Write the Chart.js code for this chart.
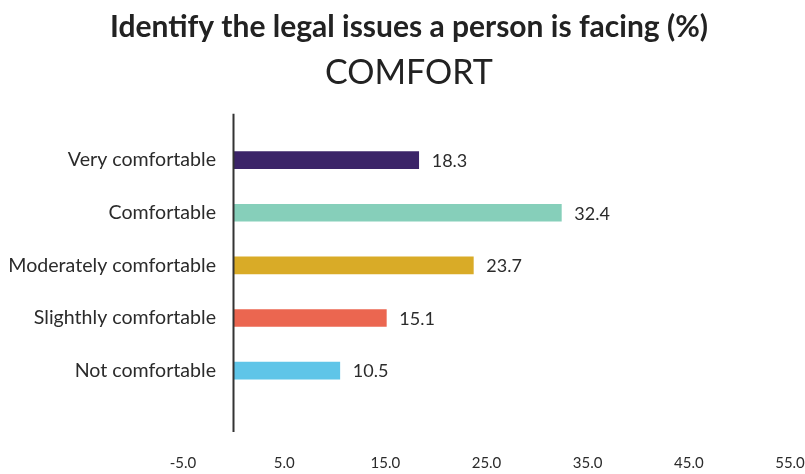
<!doctype html>
<html lang="en">
<head>
  <meta charset="utf-8">
  <title>Comfort</title>
  <script src="https://cdn.jsdelivr.net/npm/chart.js@4.4.1/dist/chart.umd.min.js"></script>
  <style>
    html, body { margin: 0; padding: 0; background: #fff; }
    #wrap { width: 805px; height: 474px; }
  </style>
</head>
<body>
<div id="wrap"><canvas id="comfort-chart"></canvas></div>

<script>
// answers to "how comfortable are you..." in percent
var categories = ["Very comfortable", "Comfortable", "Moderately comfortable",
                  "Slighthly comfortable", "Not comfortable"];
var values = [18.3, 32.4, 23.7, 15.1, 10.5];
var barColours = ["#3b2468", "#86cfba", "#d9ab27", "#eb6650", "#5fc5e8"];

// x axis runs -5 .. 55 in steps of 10
var xMin = -5;
var xMax = 55;
var xStep = 10;

var textColour = "#2b2b2b";
var fontFamily = "Lato, 'Open Sans', sans-serif";
var catFontSize = 19.6;

// category names are mirrored into the plot and right-aligned 17px left of zero,
// so work out the widest one to get the tick padding right
var yAxisWidth = 170;   // + 13 layout padding = left edge of plot
var labelEnd = 216;
var measure = document.createElement("canvas").getContext("2d");
measure.font = catFontSize + "px " + fontFamily;
var widest = 0;
categories.forEach(function(c) {
  widest = Math.max(widest, measure.measureText(c).width);
});
var yTickPadding = labelEnd - (13 + yAxisWidth) - widest;

// vertical axis line drawn through zero, a bit longer than the bars' area
var zeroLine = {
  id: "zeroLine",
  afterDatasetsDraw: function(chart) {
    var ctx = chart.ctx;
    var area = chart.chartArea;
    var px = Math.round(chart.scales.x.getPixelForValue(0)) - 0.5;
    ctx.save();
    ctx.strokeStyle = "#333";
    ctx.lineWidth = 2;
    ctx.beginPath();
    ctx.moveTo(px, area.top - 20);
    ctx.lineTo(px, area.bottom + 35);
    ctx.stroke();
    ctx.restore();
  }
};

// value printed just past the end of each bar
var valueLabels = {
  id: "valueLabels",
  afterDatasetsDraw: function(chart) {
    var ctx = chart.ctx;
    var meta = chart.getDatasetMeta(0);
    ctx.save();
    ctx.font = "18px " + fontFamily;
    ctx.fillStyle = textColour;
    ctx.textAlign = "left";
    ctx.textBaseline = "middle";
    meta.data.forEach(function(bar, i) {
      ctx.fillText(values[i].toFixed(1), bar.x + 13, bar.y + 1);
    });
    ctx.restore();
  }
};

var ctx = document.getElementById("comfort-chart").getContext("2d");
var comfortChart = new Chart(ctx, {
  type: "bar",
  data: {
    labels: categories,
    datasets: [{
      data: values,
      backgroundColor: barColours,
      borderWidth: 0,
      barThickness: 17
    }]
  },
  options: {
    indexAxis: "y",
    responsive: true,
    maintainAspectRatio: false,
    animation: false,
    layout: {
      padding: { left: 13, right: 0, top: 0, bottom: 2 }
    },
    plugins: {
      legend: { display: false },
      tooltip: { enabled: false },
      title: {
        display: true,
        text: "Identify the legal issues a person is facing (%)",
        color: "#222",
        font: { family: fontFamily, size: 30, weight: "bold" },
        padding: { top: 9, bottom: 0 }
      },
      subtitle: {
        display: true,
        text: "COMFORT",
        color: "#222",
        font: { family: fontFamily, size: 34, weight: "normal" },
        padding: { top: 8, bottom: 40 }
      }
    },
    scales: {
      x: {
        type: "linear",
        min: xMin,
        max: xMax,
        grid: { display: false, drawTicks: false },
        border: { display: false },
        // labels sit well below the bars; keep the box tight to that
        afterFit: function(scale) {
          scale.height = 75;
          scale.paddingLeft = 13;
          scale.paddingRight = 15;
        },
        ticks: {
          stepSize: xStep,
          padding: 57,
          color: textColour,
          font: { family: fontFamily, size: 15 },
          callback: function(v) { return v.toFixed(1); }
        }
      },
      y: {
        position: "left",
        grid: { display: false, drawTicks: false },
        border: { display: false },
        afterFit: function(scale) { scale.width = yAxisWidth; },
        ticks: {
          mirror: true,
          crossAlign: "far",
          padding: yTickPadding,
          color: textColour,
          font: { family: fontFamily, size: catFontSize }
        }
      }
    }
  },
  plugins: [zeroLine, valueLabels]
});
</script>
</body>
</html>
